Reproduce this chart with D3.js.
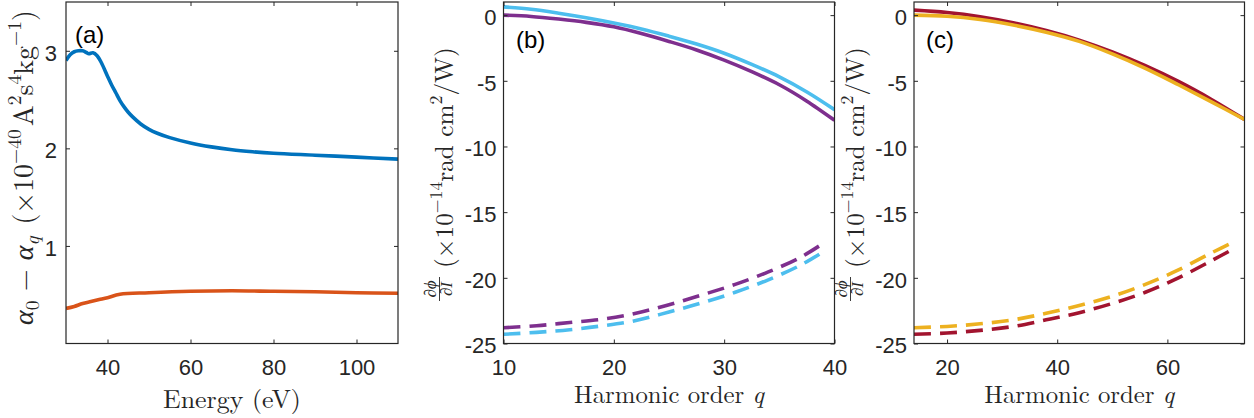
<!DOCTYPE html>
<html><head><meta charset="utf-8">
<script src="https://cdn.jsdelivr.net/npm/d3@7"></script>
<style>body{margin:0;background:#fff}svg{display:block}</style>
</head><body>
<svg id="chart" width="1254" height="418"></svg>
<script>
// ---------- data ----------
// panel (a)
const energyHigh = [30,31,32,33,34,35,35.5,36.5,37.5,38.5,40,41,42,43,44,45,46,48,50,52,55,60,65,70,75,80,90,100,110];
const alphaHigh  = [2.90,2.96,2.99,3.00,3.00,2.98,2.97,2.98,2.95,2.88,2.74,2.65,2.57,2.49,2.425,2.37,2.325,2.25,2.195,2.155,2.11,2.055,2.015,1.985,1.965,1.95,1.93,1.91,1.89];
const energyLow  = [30,32,34,36,38,40,43,50,60,70,80,90,100,110];
const alphaLow   = [0.36,0.38,0.41,0.43,0.45,0.47,0.505,0.52,0.535,0.54,0.535,0.53,0.52,0.515];
const ticksA_x = [40,60,80,100];
const ticksA_y = [1,2,3];

// panel (b)
const qSolidB   = [10,12.5,15,17.5,20,22.5,25,27.5,30,32.5,35,37.5,40];
const cyanSolidB   = [0.63,0.45,0.15,-0.2,-0.6,-1.05,-1.6,-2.2,-2.9,-3.75,-4.7,-5.85,-7.2];
const purpleSolidB = [0.0,-0.1,-0.3,-0.55,-0.89,-1.4,-2.0,-2.65,-3.42,-4.3,-5.3,-6.55,-8.0];
const qDashB    = [10,13,16,19,22,25,28,31,34,37,39.2];
const purpleDashB  = [-23.8,-23.65,-23.4,-23.15,-22.7,-22.05,-21.3,-20.5,-19.55,-18.4,-17.25];
const cyanDashB    = [-24.3,-24.15,-23.95,-23.65,-23.25,-22.6,-21.9,-21.1,-20.15,-19.0,-17.9];
const ticksB_x = [10,20,30,40];

// panel (c)
const qSolidC   = [14,20,26,32,38,44,50,56,62,68,74];
const redSolidC    = [0.38,0.2,-0.12,-0.58,-1.17,-1.9,-2.8,-3.85,-5.05,-6.42,-7.94];
const yellowSolidC = [0.0,-0.08,-0.33,-0.75,-1.3,-2.0,-2.95,-4.05,-5.3,-6.6,-7.94];
const qDashC    = [14,20,26,32,38,44,50,56,62,68,72.4];
const yellowDashC  = [-23.8,-23.7,-23.5,-23.2,-22.7,-22.1,-21.4,-20.5,-19.4,-18.1,-17.2];
const redDashC     = [-24.3,-24.2,-24.0,-23.7,-23.2,-22.65,-21.95,-21.1,-20.0,-18.7,-17.7];
const ticksC_x = [20,40,60];
const ticksBC_y = [0,-5,-10,-15,-20,-25];

// ---------- drawing ----------
const svg = d3.select('#chart');
const SANS = "Liberation Sans";
const SERIF = "Latin Modern Roman";
const GREEK = "Liberation Serif";
const AX = '#262626';
const C = {blue:'#0072BD', orange:'#D95319', purple:'#7E2F8E', cyan:'#4DBEEE', red:'#A2142F', yellow:'#EDB120'};

function zip(xs, ys){ return xs.map((x,i)=>[x, ys[i]]); }

function rich(parent, parts, fs){
  const t = parent.append('text').style('font-family', SERIF).attr('fill', AX).attr('font-size', fs);
  let shift = 0;
  parts.forEach(p=>{
    let target = 0, size = fs;
    if (p.sup){ target = -0.42*fs; size = 0.7*fs; }
    if (p.sub){ target = 0.2*fs; size = 0.7*fs; }
    const ts = t.append('tspan').text(p.t).attr('font-size', size)
      .style('font-family', p.g ? GREEK : SERIF)
      .style('font-style', p.i ? 'italic' : 'normal')
      .attr('dy', target - shift);
    if (p.dx) ts.attr('dx', p.dx);
    shift = target;
  });
  return t;
}
function fitRich(parent, parts, fs0, len){
  let t = rich(parent, parts, fs0);
  const L = t.node().getComputedTextLength();
  t.remove();
  return rich(parent, parts, fs0*len/L);
}

function panel(cfg){
  const x = d3.scaleLinear().domain(cfg.xd).range([cfg.l, cfg.r]);
  const y = d3.scaleLinear().domain(cfg.yd).range([cfg.b, cfg.t]);
  const g = svg.append('g');
  const id = 'clip' + cfg.name;
  svg.append('clipPath').attr('id', id).append('rect')
    .attr('x', cfg.l).attr('y', cfg.t).attr('width', cfg.r-cfg.l).attr('height', cfg.b-cfg.t);
  const lines = g.append('g').attr('clip-path', `url(#${id})`);
  const gen = d3.line().x(d=>x(d[0])).y(d=>y(d[1])).curve(d3.curveCatmullRom.alpha(0.5));
  cfg.series.forEach(s=>{
    lines.append('path').attr('d', gen(zip(s.x, s.y)))
      .attr('fill','none').attr('stroke', s.c).attr('stroke-width', 3.6)
      .attr('stroke-linejoin','round')
      .attr('stroke-dasharray', s.dash ? '17,9' : null);
  });
  const tk = 4;
  g.append('g').attr('transform', `translate(0,${cfg.b})`)
    .call(d3.axisBottom(x).tickValues(cfg.xt).tickSizeInner(-tk).tickSizeOuter(0).tickPadding(16));
  g.append('g').attr('transform', `translate(0,${cfg.t})`)
    .call(d3.axisTop(x).tickValues(cfg.xt).tickSizeInner(-tk).tickSizeOuter(0).tickFormat(''));
  const left = g.append('g').attr('transform', `translate(${cfg.l},0)`)
    .call(d3.axisLeft(y).tickValues(cfg.yt).tickSizeInner(-tk).tickSizeOuter(0).tickPadding(cfg.ypad)
      .tickFormat(d=>String(d)));
  g.append('g').attr('transform', `translate(${cfg.r},0)`)
    .call(d3.axisRight(y).tickValues(cfg.yt).tickSizeInner(-tk).tickSizeOuter(0).tickFormat(''));
  g.selectAll('.domain').remove();
  g.selectAll('.tick line').attr('stroke', AX).attr('stroke-width', 1);
  g.selectAll('.tick text').attr('fill', AX).style('font-family', SANS).attr('font-size', 22);
  left.selectAll('.tick text').attr('dy', '0.42em');
  g.append('rect').attr('x', cfg.l).attr('y', cfg.t).attr('width', cfg.r-cfg.l).attr('height', cfg.b-cfg.t)
    .attr('fill','none').attr('stroke', AX).attr('stroke-width', 1.2);
  g.append('text').attr('x', cfg.lx).attr('y', cfg.ly).text(cfg.letter)
    .style('font-family', SANS).attr('font-size', 24).attr('fill', '#000');
  const xl = fitRich(g, cfg.xlabel, 25, cfg.xlw);
  xl.attr('x', (cfg.l+cfg.r)/2).attr('y', cfg.xly).attr('text-anchor','middle');
  return {x, y, g};
}

// Panel (a)
panel({name:'a', l:66, r:398, t:2, b:343.5, xd:[30,110], yd:[0,3.5], xt:ticksA_x, yt:ticksA_y, ypad:9,
  series:[{x:energyHigh, y:alphaHigh, c:C.blue},{x:energyLow, y:alphaLow, c:C.orange}],
  letter:'(a)', lx:75, ly:43, xlabel:[{t:'Energy (eV)'}], xly:408, xlw:138});
{
  const g = svg.append('g').attr('transform','translate(33,0) rotate(-90)');
  const parts = [{t:'α', i:true, g:true},{t:'0', sub:true},{t:' − '},{t:'α', i:true, g:true},{t:'q', sub:true, i:true},
    {t:'(×10', dx:12},{t:'−40', sup:true},{t:'A', dx:3},{t:'2', sup:true},{t:'s'},{t:'4', sup:true},{t:'kg'},{t:'−1', sup:true},{t:')'}];
  const t = fitRich(g, parts, 24, 300);
  t.attr('x', -325).attr('y', 0);
}

function phiLabel(bx){
  const g = svg.append('g').attr('transform', `translate(${bx},0) rotate(-90)`);
  const parts = [{t:'(×10'},{t:'−14', sup:true},{t:'rad cm'},{t:'2', sup:true},{t:'/W)'}];
  const t = fitRich(g, parts, 22, 221);
  t.attr('x', -268).attr('y', 0);
  const fx = -289;
  g.append('text').attr('x', fx).attr('y', -17).attr('text-anchor','middle')
    .style('font-family', GREEK).style('font-style','italic').attr('font-size', 17).attr('fill', AX).text('∂ϕ');
  g.append('text').attr('x', fx).attr('y', -1).attr('text-anchor','middle')
    .style('font-family', GREEK).style('font-style','italic').attr('font-size', 17).attr('fill', AX).text('∂I');
  g.append('line').attr('x1', fx-12).attr('x2', fx+12).attr('y1', -13.5).attr('y2', -13.5)
    .attr('stroke', AX).attr('stroke-width', 0.9);
}
panel({name:'b', l:503.5, r:834.5, t:2, b:343.5, xd:[10,40], yd:[-25,1], xt:ticksB_x, yt:ticksBC_y, ypad:7,
  series:[{x:qSolidB, y:cyanSolidB, c:C.cyan},{x:qSolidB, y:purpleSolidB, c:C.purple},
          {x:qDashB, y:purpleDashB, c:C.purple, dash:true},{x:qDashB, y:cyanDashB, c:C.cyan, dash:true}],
  letter:'(b)', lx:516, ly:48, xlabel:[{t:'Harmonic order '},{t:'q', i:true}], xly:403, xlw:190});
phiLabel(453);
panel({name:'c', l:914, r:1244.5, t:2, b:343.5, xd:[14,74], yd:[-25,1], xt:ticksC_x, yt:ticksBC_y, ypad:7,
  series:[{x:qSolidC, y:redSolidC, c:C.red},{x:qSolidC, y:yellowSolidC, c:C.yellow},
          {x:qDashC, y:yellowDashC, c:C.yellow, dash:true},{x:qDashC, y:redDashC, c:C.red, dash:true}],
  letter:'(c)', lx:926, ly:48, xlabel:[{t:'Harmonic order '},{t:'q', i:true}], xly:403, xlw:190});
phiLabel(864);
</script>
</body></html>
